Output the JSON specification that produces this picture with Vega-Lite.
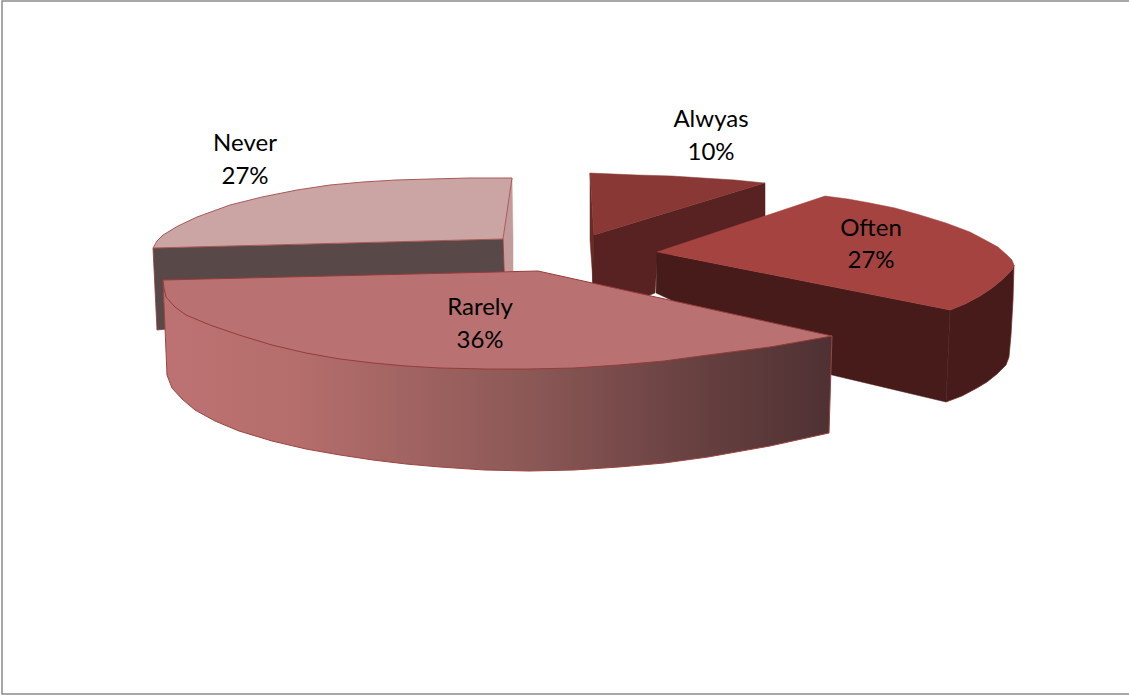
{
  "$schema": "https://vega.github.io/schema/vega-lite/v6.json",
  "autosize": {"type": "none"},
  "width": 1129,
  "height": 695,
  "padding": 0,
  "background": "white",
  "config": {"view": {"stroke": null}},
  "datasets": {
    "frame": [{"i":0,"x":1129,"y":1},{"i":1,"x":2,"y":1},{"i":2,"x":2,"y":694},{"i":3,"x":1129,"y":694}],
    "never_inner": [{"i":0,"x":512,"y":178},{"i":1,"x":503,"y":239},{"i":2,"x":504,"y":271},{"i":3,"x":513,"y":271},{"i":4,"x":513,"y":237},{"i":5,"x":512,"y":178}],
    "never_front": [{"i":0,"x":153,"y":248},{"i":1,"x":503,"y":239},{"i":2,"x":505,"y":295},{"i":3,"x":157,"y":330},{"i":4,"x":153,"y":248}],
    "never_top": [{"i":0,"x":153,"y":248},{"i":1,"x":157,"y":241},{"i":2,"x":163,"y":235},{"i":3,"x":178,"y":226},{"i":4,"x":197,"y":217},{"i":5,"x":230,"y":205},{"i":6,"x":262,"y":197},{"i":7,"x":297,"y":190},{"i":8,"x":330,"y":185},{"i":9,"x":363,"y":182},{"i":10,"x":396,"y":180},{"i":11,"x":430,"y":179},{"i":12,"x":470,"y":178},{"i":13,"x":512,"y":178},{"i":14,"x":503,"y":239},{"i":15,"x":153,"y":248}],
    "always_inner": [{"i":0,"x":590,"y":173},{"i":1,"x":594,"y":235},{"i":2,"x":593,"y":283},{"i":3,"x":590,"y":240},{"i":4,"x":590,"y":173}],
    "always_front": [{"i":0,"x":594,"y":235},{"i":1,"x":765,"y":183},{"i":2,"x":765,"y":216},{"i":3,"x":657,"y":262},{"i":4,"x":655,"y":293},{"i":5,"x":650,"y":295},{"i":6,"x":592,"y":300},{"i":7,"x":594,"y":235}],
    "always_top": [{"i":0,"x":590,"y":173},{"i":1,"x":637,"y":175},{"i":2,"x":672,"y":176},{"i":3,"x":703,"y":178},{"i":4,"x":735,"y":180},{"i":5,"x":765,"y":183},{"i":6,"x":594,"y":235},{"i":7,"x":590,"y":173}],
    "often_rim": [{"i":0,"x":950,"y":310},{"i":1,"x":965,"y":304},{"i":2,"x":980,"y":296},{"i":3,"x":992,"y":288},{"i":4,"x":1003,"y":279},{"i":5,"x":1012,"y":270},{"i":6,"x":1014,"y":265},{"i":7,"x":1013,"y":300},{"i":8,"x":1011,"y":335},{"i":9,"x":1009,"y":357},{"i":10,"x":1006,"y":365},{"i":11,"x":997,"y":374},{"i":12,"x":987,"y":382},{"i":13,"x":977,"y":388},{"i":14,"x":962,"y":396},{"i":15,"x":946,"y":402},{"i":16,"x":950,"y":310}],
    "often_front": [{"i":0,"x":657,"y":252},{"i":1,"x":950,"y":310},{"i":2,"x":946,"y":402},{"i":3,"x":832,"y":375},{"i":4,"x":656,"y":293},{"i":5,"x":657,"y":252}],
    "often_top": [{"i":0,"x":825,"y":196},{"i":1,"x":848,"y":199},{"i":2,"x":870,"y":203},{"i":3,"x":895,"y":208},{"i":4,"x":920,"y":215},{"i":5,"x":946,"y":223},{"i":6,"x":970,"y":232},{"i":7,"x":987,"y":241},{"i":8,"x":998,"y":247},{"i":9,"x":1007,"y":255},{"i":10,"x":1012,"y":260},{"i":11,"x":1014,"y":265},{"i":12,"x":1012,"y":270},{"i":13,"x":1003,"y":279},{"i":14,"x":992,"y":288},{"i":15,"x":980,"y":296},{"i":16,"x":965,"y":304},{"i":17,"x":950,"y":310},{"i":18,"x":657,"y":252},{"i":19,"x":825,"y":196}],
    "rarely_rim": [{"i":0,"x":163,"y":280},{"i":1,"x":167,"y":375},{"i":2,"x":172,"y":388},{"i":3,"x":182,"y":399},{"i":4,"x":195,"y":410},{"i":5,"x":215,"y":421},{"i":6,"x":239,"y":431},{"i":7,"x":272,"y":441},{"i":8,"x":306,"y":449},{"i":9,"x":340,"y":455},{"i":10,"x":373,"y":460},{"i":11,"x":406,"y":464},{"i":12,"x":440,"y":467},{"i":13,"x":485,"y":470},{"i":14,"x":529,"y":471},{"i":15,"x":574,"y":470},{"i":16,"x":619,"y":467},{"i":17,"x":664,"y":463},{"i":18,"x":708,"y":457},{"i":19,"x":770,"y":446},{"i":20,"x":829,"y":433},{"i":21,"x":832,"y":336},{"i":22,"x":163,"y":280}],
    "rarely_top": [{"i":0,"x":163,"y":280},{"i":1,"x":164,"y":288},{"i":2,"x":166,"y":297},{"i":3,"x":175,"y":307},{"i":4,"x":186,"y":315},{"i":5,"x":210,"y":325},{"i":6,"x":239,"y":335},{"i":7,"x":272,"y":345},{"i":8,"x":306,"y":353},{"i":9,"x":340,"y":359},{"i":10,"x":373,"y":363},{"i":11,"x":406,"y":366},{"i":12,"x":440,"y":368},{"i":13,"x":485,"y":369},{"i":14,"x":529,"y":369},{"i":15,"x":574,"y":368},{"i":16,"x":619,"y":365},{"i":17,"x":664,"y":361},{"i":18,"x":708,"y":355},{"i":19,"x":770,"y":347},{"i":20,"x":832,"y":336},{"i":21,"x":538,"y":271},{"i":22,"x":163,"y":280}],
    "labels": [
      {"slice":"Never","share":0.27,"x":245,"y":144,"y2":177},
      {"slice":"Alwyas","share":0.10,"x":711,"y":120,"y2":153},
      {"slice":"Often","share":0.27,"x":871,"y":229,"y2":261},
      {"slice":"Rarely","share":0.36,"x":480,"y":308,"y2":341}
    ]
  },
  "encoding": {
    "x": {"field": "x", "type": "quantitative", "axis": null, "scale": {"domain": [0, 1129], "nice": false, "zero": false}},
    "y": {"field": "y", "type": "quantitative", "axis": null, "scale": {"domain": [695, 0], "nice": false, "zero": false}},
    "order": {"field": "i", "type": "quantitative"}
  },
  "layer": [
    {"data": {"name": "frame"}, "mark": {"type": "line", "stroke": "#8c8c8c", "strokeWidth": 1.5}},
    {"data": {"name": "never_inner"}, "mark": {"type": "line", "fill": "#c49b9b", "stroke": "#c49b9b", "strokeWidth": 0.5}},
    {"data": {"name": "never_front"}, "mark": {"type": "line", "fill": "#584848", "stroke": "#8e3c3a", "strokeWidth": 0.8}},
    {"data": {"name": "never_top"}, "mark": {"type": "line", "fill": "#cba4a4", "stroke": "#a85a58", "strokeWidth": 1}},
    {"data": {"name": "always_inner"}, "mark": {"type": "line", "fill": "#6a2b28", "stroke": "#6a2b28", "strokeWidth": 0.5}},
    {"data": {"name": "always_front"}, "mark": {"type": "line", "fill": "#572221", "stroke": "#572221", "strokeWidth": 0.5}},
    {"data": {"name": "always_top"}, "mark": {"type": "line", "fill": "#893835", "stroke": "#893835", "strokeWidth": 0.5}},
    {"data": {"name": "often_rim"}, "mark": {"type": "line", "fill": "#461b1a", "stroke": "#6e2c2a", "strokeWidth": 0.7}},
    {"data": {"name": "often_front"}, "mark": {"type": "line", "fill": "#461b1a", "stroke": "#461b1a", "strokeWidth": 0.5}},
    {"data": {"name": "often_top"}, "mark": {"type": "line", "fill": "#a54341", "stroke": "#a54341", "strokeWidth": 0.5}},
    {"data": {"name": "rarely_rim"}, "mark": {"type": "line", "stroke": "#9c4543", "strokeWidth": 1, "fill": {"gradient": "linear", "x1": 0, "y1": 0, "x2": 1, "y2": 0, "stops": [
      {"offset": 0, "color": "#bc7272"},
      {"offset": 0.2, "color": "#b56e6c"},
      {"offset": 0.55, "color": "#8b5856"},
      {"offset": 0.8, "color": "#674040"},
      {"offset": 1, "color": "#4f3133"}
    ]}}},
    {"data": {"name": "rarely_top"}, "mark": {"type": "line", "fill": "#b97271", "stroke": "#963c3a", "strokeWidth": 1}},
    {"data": {"name": "labels"}, "mark": {"type": "text", "font": "Lato", "fontSize": 24, "color": "#000000", "align": "center", "baseline": "middle"},
      "encoding": {"text": {"field": "slice", "type": "nominal"}}},
    {"data": {"name": "labels"}, "mark": {"type": "text", "font": "Lato", "fontSize": 24, "color": "#000000", "align": "center", "baseline": "middle"},
      "encoding": {"y": {"field": "y2", "type": "quantitative"}, "text": {"field": "share", "type": "quantitative", "format": ".0%"}}}
  ]
}
